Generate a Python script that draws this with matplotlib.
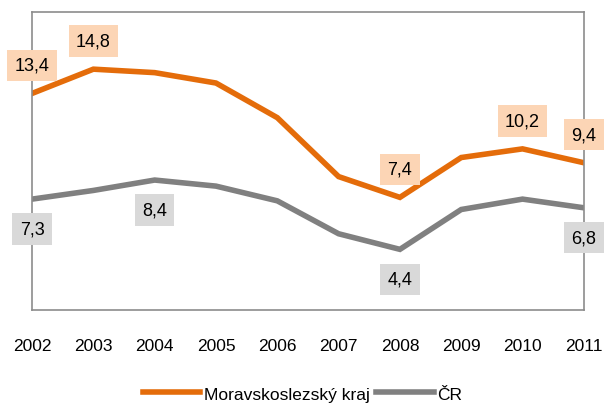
import numpy as np
import matplotlib
matplotlib.use("Agg")
import matplotlib.pyplot as plt

plt.rcParams['font.family'] = ['Liberation Sans', 'DejaVu Sans']

roky = [2002, 2003, 2004, 2005, 2006, 2007, 2008, 2009, 2010, 2011]
msk = [13.4, 14.8, 14.6, 14.0, 12.0, 8.6, 7.4, 9.7, 10.2, 9.4]
cr = [7.3, 7.8, 8.4, 8.05, 7.2, 5.3, 4.4, 6.7, 7.3, 6.8]

# which points get a label
msk_popisky = [2002, 2003, 2008, 2010, 2011]
cr_popisky = [2002, 2004, 2008, 2011]

oranzova = '#E46C0A'
seda = '#808080'

fig = plt.figure(figsize=(6.05, 4.06), dpi=100)
ax = fig.add_axes([0.053, 0.234, 0.912, 0.734])

ax.plot(roky, msk, color=oranzova, lw=4, solid_joinstyle='miter', label='Moravskoslezský kraj')
ax.plot(roky, cr, color=seda, lw=4, solid_joinstyle='miter', label='ČR')

for r, v in zip(roky, msk):
    if r in msk_popisky:
        ax.annotate(f'{v:.1f}'.replace('.', ','), (r, v), xytext=(0, 28),
                    textcoords='offset pixels', ha='center', va='center', fontsize=13,
                    bbox=dict(boxstyle='square,pad=0.4', fc='#FCD5B5', ec='none'))
for r, v in zip(roky, cr):
    if r in cr_popisky:
        ax.annotate(f'{v:.1f}'.replace('.', ','), (r, v), xytext=(0, -30),
                    textcoords='offset pixels', ha='center', va='center', fontsize=13,
                    bbox=dict(boxstyle='square,pad=0.4', fc='#D9D9D9', ec='none'))

ax.set_xlim(2002, 2011)
ax.set_ylim(0.9, 18.1)
ax.set_xticks(roky)
ax.set_xticklabels([str(r) for r in roky], fontsize=12.5)
ax.set_yticks([])
ax.tick_params(axis='x', length=0, pad=20)
for s in ax.spines.values():
    s.set_color('#8C8C8C')
    s.set_linewidth(1.2)

fig.legend(loc='lower center', bbox_to_anchor=(0.5, -0.03), ncol=2, frameon=False,
           fontsize=12.5, handlelength=3.3, handletextpad=0.2, columnspacing=0.4)

fig.savefig('out.png', dpi=100)
